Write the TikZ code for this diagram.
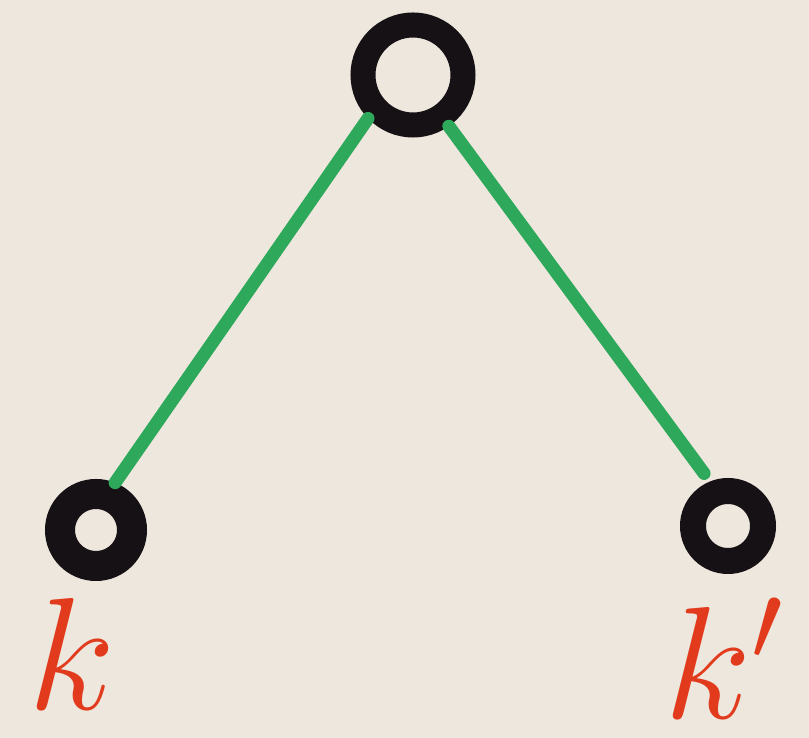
\documentclass[tikz,border=0pt]{standalone}
\usepackage{fix-cm}
\definecolor{paper}{HTML}{EDE7DD}
\definecolor{ringink}{HTML}{151114}
\definecolor{stickgreen}{HTML}{2EA85A}
\definecolor{labelred}{HTML}{E23A1C}
\begin{document}
\begin{tikzpicture}[x=1pt,y=1pt,
  ring/.style={circle,draw=ringink,inner sep=0pt},
  stick/.style={draw=stickgreen,line width=13pt,line cap=round},
  lbl/.style={text=labelred,inner sep=0pt,font=\fontsize{160}{160}\selectfont}]
\fill[paper] (0,0) rectangle (809,738);
\useasboundingbox (0,0) rectangle (809,738);
\node[ring,line width=25pt,minimum size=100pt] (top) at (413,663) {};
\node[ring,line width=30pt,minimum size=72pt] (left) at (96,208) {};
\node[ring,line width=26pt,minimum size=70pt] (right) at (728,212) {};
\draw[stick] (top.-136) -- (left.68);
\draw[stick,shorten >=10pt] (top.-55) -- (right.112);
\node[lbl] (k) at (72,84) {$k$};
\node[lbl] (kp) at (724,80) {$k'$};
\end{tikzpicture}
\end{document}
